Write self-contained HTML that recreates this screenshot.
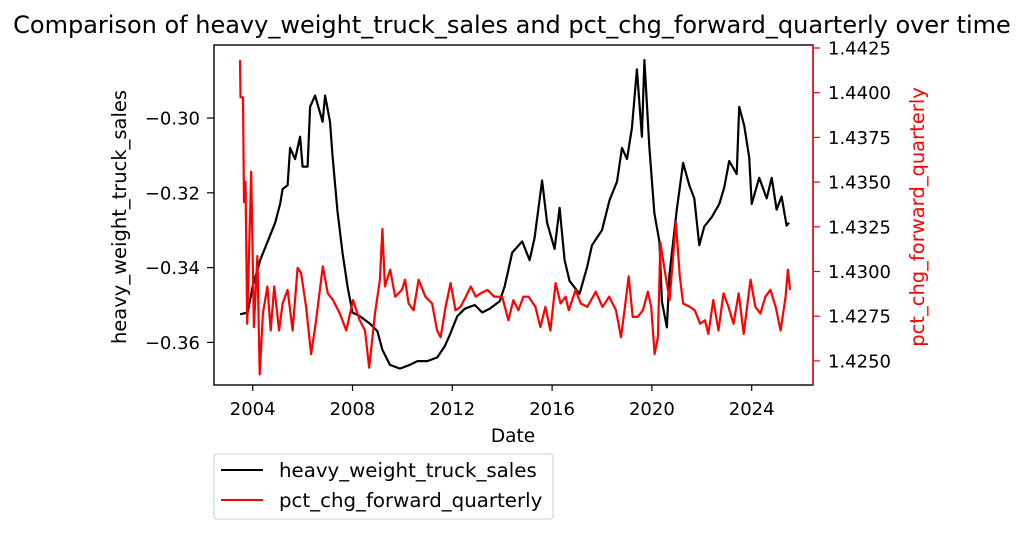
<!DOCTYPE html>
<html><head><meta charset="utf-8"><style>
body{margin:0;background:#fff;}
svg{display:block;font-family:"DejaVu Sans","Liberation Sans",sans-serif;}
</style></head><body>
<svg id="chart" width="1026" height="534" viewBox="0 0 1026 534">
<text x="512" y="33" text-anchor="middle" font-size="24" fill="#000">Comparison of heavy_weight_truck_sales and pct_chg_forward_quarterly over time</text>
<g id="marks"></g>
<rect x="214" y="45" width="599" height="340" fill="none" stroke="#000" stroke-width="1.4"/>
<line x1="813" y1="45" x2="813" y2="385" stroke="red" stroke-width="1.4"/>
<g id="axes"></g>
<text x="513" y="442" text-anchor="middle" font-size="18.5">Date</text>
<text transform="translate(126,217) rotate(-90)" text-anchor="middle" font-size="19.5">heavy_weight_truck_sales</text>
<text transform="translate(924,217) rotate(-90)" text-anchor="middle" font-size="19.5" fill="red">pct_chg_forward_quarterly</text>
<g>
<rect x="214" y="454" width="339" height="65" rx="3" fill="#fff" stroke="#ccc"/>
<line x1="221" y1="470" x2="263" y2="470" stroke="#000" stroke-width="2"/>
<text x="279" y="477" font-size="19.8">heavy_weight_truck_sales</text>
<line x1="221" y1="500" x2="263" y2="500" stroke="red" stroke-width="2"/>
<text x="279" y="507" font-size="19.8">pct_chg_forward_quarterly</text>
</g>
</svg>
<script>
const blackYears=[2003.5,2003.8,2004.0,2004.3,2004.6,2004.9,2005.1,2005.2,2005.4,2005.5,2005.7,2005.9,2006.0,2006.2,2006.3,2006.5,2006.8,2006.9,2007.1,2007.2,2007.4,2007.6,2007.8,2008.0,2008.3,2008.7,2009.0,2009.2,2009.5,2009.9,2010.3,2010.6,2011.0,2011.4,2011.7,2011.9,2012.2,2012.5,2012.9,2013.2,2013.5,2013.9,2014.1,2014.4,2014.8,2015.1,2015.3,2015.6,2015.8,2016.1,2016.3,2016.5,2016.7,2017.1,2017.4,2017.6,2018.0,2018.3,2018.6,2018.8,2019.0,2019.2,2019.4,2019.6,2019.7,2019.9,2020.1,2020.3,2020.4,2020.6,2020.7,2021.0,2021.25,2021.5,2021.7,2021.9,2022.1,2022.4,2022.7,2022.9,2023.1,2023.4,2023.5,2023.7,2023.9,2024.0,2024.3,2024.6,2024.8,2025.0,2025.2,2025.4,2025.5];
const blackValues=[-0.3525,-0.352,-0.345,-0.338,-0.333,-0.328,-0.323,-0.319,-0.318,-0.308,-0.311,-0.305,-0.313,-0.313,-0.297,-0.294,-0.301,-0.294,-0.301,-0.310,-0.325,-0.336,-0.345,-0.352,-0.353,-0.355,-0.357,-0.362,-0.366,-0.367,-0.366,-0.365,-0.365,-0.364,-0.361,-0.358,-0.353,-0.351,-0.350,-0.352,-0.351,-0.349,-0.345,-0.336,-0.333,-0.338,-0.332,-0.3167,-0.328,-0.335,-0.324,-0.338,-0.3436,-0.347,-0.340,-0.334,-0.330,-0.322,-0.317,-0.308,-0.311,-0.3027,-0.287,-0.305,-0.2845,-0.308,-0.3255,-0.333,-0.349,-0.356,-0.342,-0.3245,-0.312,-0.318,-0.3215,-0.334,-0.329,-0.3265,-0.323,-0.3185,-0.3115,-0.315,-0.297,-0.302,-0.3105,-0.323,-0.316,-0.3215,-0.316,-0.3245,-0.321,-0.3288,-0.328];
const redYears=[2003.49,2003.51,2003.61,2003.65,2003.71,2003.78,2003.94,2004.05,2004.19,2004.28,2004.41,2004.59,2004.72,2004.86,2005.06,2005.2,2005.4,2005.6,2005.8,2005.94,2006.14,2006.34,2006.54,2006.81,2007.01,2007.22,2007.49,2007.75,2008.02,2008.29,2008.5,2008.67,2008.9,2009.1,2009.2,2009.3,2009.51,2009.71,2009.98,2010.11,2010.25,2010.45,2010.65,2010.92,2011.19,2011.39,2011.53,2011.73,2011.93,2012.13,2012.33,2012.54,2012.74,2012.94,2013.14,2013.41,2013.68,2014.0,2014.25,2014.45,2014.65,2014.85,2015.06,2015.33,2015.53,2015.73,2015.93,2016.14,2016.34,2016.54,2016.67,2016.94,2017.15,2017.41,2017.75,2018.02,2018.29,2018.56,2018.76,2018.9,2019.07,2019.23,2019.43,2019.64,2019.84,2019.97,2020.11,2020.24,2020.34,2020.51,2020.71,2020.96,2021.12,2021.25,2021.52,2021.72,2021.93,2022.13,2022.26,2022.46,2022.67,2022.87,2023.07,2023.27,2023.48,2023.68,2023.95,2024.15,2024.35,2024.55,2024.75,2024.96,2025.16,2025.36,2025.45,2025.54];
const redValues=[1.44182,1.43974,1.43974,1.43388,1.43502,1.42708,1.43558,1.42689,1.43086,1.42424,1.42765,1.42916,1.42670,1.42916,1.42670,1.42821,1.42897,1.42670,1.4302,1.42991,1.42802,1.42538,1.42727,1.43029,1.42878,1.42840,1.42765,1.42670,1.42840,1.42727,1.42670,1.42462,1.42765,1.42954,1.43237,1.42916,1.43010,1.42859,1.42897,1.42954,1.42821,1.42783,1.42954,1.42859,1.42821,1.42670,1.42632,1.42802,1.42935,1.42783,1.42802,1.42859,1.42916,1.42859,1.42878,1.42897,1.42859,1.42859,1.42727,1.42840,1.42783,1.42859,1.42859,1.42802,1.42689,1.42802,1.42670,1.42935,1.42821,1.42859,1.42783,1.42897,1.42821,1.42802,1.42887,1.42802,1.42859,1.42783,1.42632,1.42783,1.42973,1.42746,1.42746,1.42783,1.42887,1.42802,1.42538,1.42632,1.43161,1.43010,1.42840,1.43275,1.42973,1.42821,1.42802,1.42783,1.42708,1.42727,1.42651,1.42840,1.42670,1.42878,1.42802,1.42708,1.42878,1.42651,1.42954,1.42802,1.42765,1.42859,1.42897,1.42802,1.42670,1.42859,1.43010,1.42897];
const xTicks=[2004,2008,2012,2016,2020,2024];
const leftTicks=[-0.36,-0.34,-0.32,-0.30];
const rightTicks=[1.4250,1.4275,1.4300,1.4325,1.4350,1.4375,1.4400,1.4425];

const NS="http://www.w3.org/2000/svg";
const X0=214,X1=813,Y0=45,Y1=385;
const xs=v=>252.7+(v-2004)*24.95;
const yl=v=>118+(-0.30-v)/0.02*74.8;
const yr=v=>48+(1.4425-v)/0.0025*44.7;
const marks=document.getElementById('marks');
const axes=document.getElementById('axes');
function mk(tag,attrs,parent){const e=document.createElementNS(NS,tag);for(const k in attrs)e.setAttribute(k,attrs[k]);parent.appendChild(e);return e;}

const pb=mk('polyline',{points:blackYears.map((y,i)=>xs(y).toFixed(1)+','+yl(blackValues[i]).toFixed(1)).join(' '),fill:'none',stroke:'#000','stroke-width':2.2,'stroke-linejoin':'round'},marks);


const pr=mk('polyline',{points:redYears.map((y,i)=>xs(y).toFixed(1)+','+yr(redValues[i]).toFixed(1)).join(' '),fill:'none',stroke:'red','stroke-width':2.2,'stroke-linejoin':'round'},marks);



xTicks.forEach(t=>{
  const x=xs(t);
  const l=mk('line',{x1:x,y1:Y1,x2:x,y2:Y1+6,stroke:'#000','stroke-width':1.2},axes);
  
  
  const tx=mk('text',{x:x,y:415,'text-anchor':'middle','font-size':18},axes);
  tx.textContent=t;
  
  
});
leftTicks.forEach(t=>{
  const y=yl(t);
  const l=mk('line',{x1:X0-7,y1:y,x2:X0,y2:y,stroke:'#000','stroke-width':1.2},axes);
  
  
  const tx=mk('text',{x:200,y:y+6.5,'text-anchor':'end','font-size':18},axes);
  tx.textContent='\u2212'+Math.abs(t).toFixed(2);
  
  
});
rightTicks.forEach(t=>{
  const y=yr(t);
  const l=mk('line',{x1:X1,y1:y,x2:X1+7,y2:y,stroke:'red','stroke-width':1.2},axes);
  
  
  const tx=mk('text',{x:828,y:y+6.5,'font-size':18},axes);
  tx.textContent=t.toFixed(4);
  
  
});
</script>
</body></html>
